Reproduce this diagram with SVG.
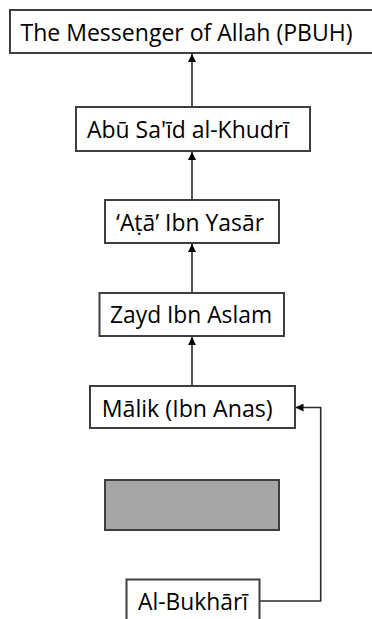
<svg xmlns="http://www.w3.org/2000/svg" width="372" height="619" viewBox="0 0 372 619">
<style>
.box{fill:#fff;stroke:#3f3f3f;stroke-width:2}
.grey{fill:#a6a6a6;stroke:#3f3f3f;stroke-width:2}
.lbl{font-family:"Open Sans","Noto Sans","DejaVu Sans",sans-serif;font-size:23.5px;fill:#000}
.con{fill:none;stroke:#2b2b2b;stroke-width:1.6}
</style>
<defs>
<marker id="ah" viewBox="0 0 10 10" refX="10" refY="5" markerWidth="5" markerHeight="5" orient="auto" markerUnits="strokeWidth">
<path d="M0,0 L10,5 L0,10 z" fill="#000"/>
</marker>
</defs>
<rect width="372" height="619" fill="#fff"/>
<g id="connectors">
<line class="con" x1="192" y1="107" x2="192" y2="54" marker-end="url(#ah)"/>
<line class="con" x1="192" y1="200" x2="192" y2="152" marker-end="url(#ah)"/>
<line class="con" x1="192" y1="293" x2="192" y2="244" marker-end="url(#ah)"/>
<line class="con" x1="192" y1="386" x2="192" y2="337" marker-end="url(#ah)"/>
<polyline class="con" points="259.5,601 320.7,601 320.7,407.5 295.5,407.5" marker-end="url(#ah)"/>
</g>
<g id="messenger">
<rect class="box" x="10" y="10" width="380" height="43"/>
<text class="lbl" x="20.5" y="41" textLength="332" lengthAdjust="spacingAndGlyphs">The Messenger of Allah (PBUH)</text>
</g>
<g id="abu-said">
<rect class="box" x="76" y="107" width="234" height="44"/>
<text class="lbl" x="87" y="138" textLength="202" lengthAdjust="spacingAndGlyphs">Abū Sa'īd al-Khudrī</text>
</g>
<g id="ata">
<rect class="box" x="105" y="200" width="174" height="43"/>
<text class="lbl" x="116" y="231" textLength="148" lengthAdjust="spacingAndGlyphs">‘Aṭā’ Ibn Yasār</text>
</g>
<g id="zayd">
<rect class="box" x="99.5" y="293" width="184.5" height="43"/>
<text class="lbl" x="110" y="323" textLength="162" lengthAdjust="spacingAndGlyphs">Zayd Ibn Aslam</text>
</g>
<g id="malik">
<rect class="box" x="90" y="386" width="205" height="42"/>
<text class="lbl" x="101.7" y="417" textLength="171" lengthAdjust="spacingAndGlyphs">Mālik (Ibn Anas)</text>
</g>
<g id="hidden">
<rect class="grey" x="105" y="480" width="174" height="50"/>
</g>
<g id="bukhari">
<rect class="box" x="126.5" y="579.5" width="133" height="60"/>
<text class="lbl" x="138" y="610" textLength="110" lengthAdjust="spacingAndGlyphs">Al-Bukhārī</text>
</g>
</svg>
